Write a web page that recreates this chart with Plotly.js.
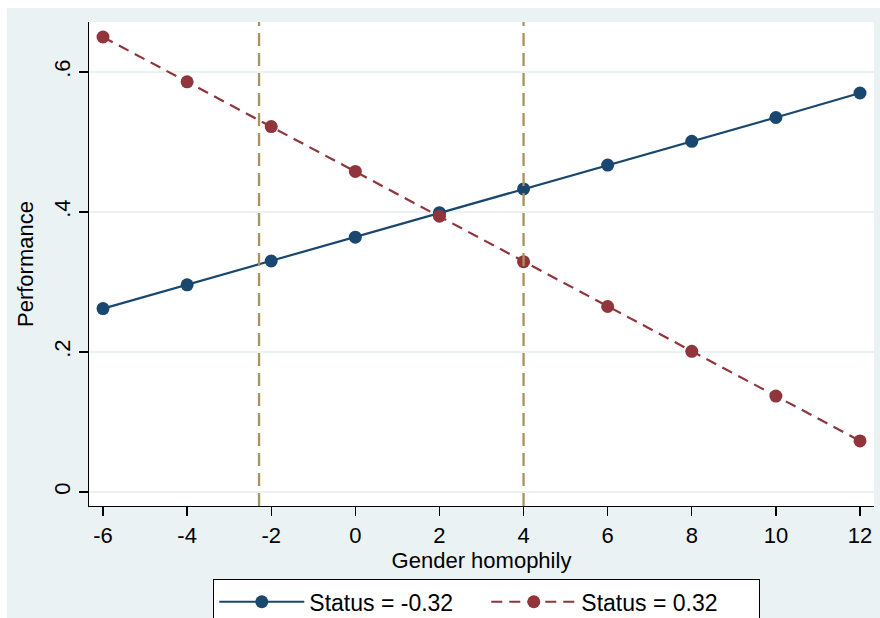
<!DOCTYPE html>
<html>
<head>
<meta charset="utf-8">
<script src="https://cdn.plot.ly/plotly-3.0.1.min.js"></script>
<style>html,body{margin:0;padding:0;background:#fff;}#chart{width:880px;height:618px;}</style>
</head>
<body>
<div id="chart"></div>
<script>
// Data
const homophily = [-6, -4, -2, 0, 2, 4, 6, 8, 10, 12];
const perfLowStatus = [0.262, 0.296, 0.330, 0.364, 0.399, 0.433, 0.467, 0.501, 0.535, 0.570];
const perfHighStatus = [0.650, 0.586, 0.522, 0.458, 0.394, 0.329, 0.265, 0.201, 0.137, 0.073];
const seriesNames = ['Status = -0.32', 'Status = 0.32'];
const refLines = [-2.29, 4];
const yTickVals = [0, 0.2, 0.4, 0.6];
const yTickText = ['0', '.2', '.4', '.6'];
const xTickVals = [-6, -4, -2, 0, 2, 4, 6, 8, 10, 12];
const xTickText = ['-6', '-4', '-2', '0', '2', '4', '6', '8', '10', '12'];

const navy = '#1a476f', maroon = '#90353b', khaki = '#a8935a', bg = '#eaf2f3';

const traces = [
  {x: homophily, y: perfLowStatus, name: seriesNames[0], mode: 'lines+markers',
   line: {color: navy, width: 2.2}, marker: {color: navy, size: 13}},
  {x: homophily, y: perfHighStatus, name: seriesNames[1], mode: 'lines+markers',
   line: {color: maroon, width: 2.2, dash: '11px,7px'}, marker: {color: maroon, size: 13}}
];

const shapes = refLines.map(v => ({type: 'line', xref: 'x', yref: 'paper', x0: v, x1: v, y0: 0, y1: 1,
  line: {color: khaki, width: 2.3, dash: '13px,7px'}, layer: 'above'}));
// white outer margins (top and left)
shapes.push({type: 'rect', xref: 'paper', yref: 'paper', x0: -89/785, x1: (880-89)/785, y0: 1 + 14/484, y1: 1 + 22/484,
  fillcolor: '#ffffff', line: {width: 0}, layer: 'below'});
shapes.push({type: 'rect', xref: 'paper', yref: 'paper', x0: -89/785, x1: -82/785, y0: -112/484, y1: 1 + 22/484,
  fillcolor: '#ffffff', line: {width: 0}, layer: 'below'});

const layout = {
  width: 880, height: 618,
  margin: {l: 89, r: 6, t: 22, b: 112, pad: 0},
  paper_bgcolor: bg, plot_bgcolor: '#ffffff',
  font: {family: 'Arial, Liberation Sans, sans-serif', color: '#000', size: 22},
  showlegend: true,
  legend: {orientation: 'h', xref: 'container', yref: 'container', x: 213/880, y: 1 - 579/618,
    xanchor: 'left', yanchor: 'top', bgcolor: '#ffffff', bordercolor: '#000', borderwidth: 1.3,
    font: {size: 23}, entrywidth: 172, entrywidthmode: 'pixels', itemwidth: 85},
  xaxis: {range: [-6.333, 12.333], tickvals: xTickVals, ticktext: xTickText, ticks: 'outside', ticklen: 9, tickwidth: 1.3,
    tickcolor: '#000', showline: true, linecolor: '#000', linewidth: 1.3, showgrid: false, zeroline: false,
    tickfont: {size: 22}, title: {text: 'Gender homophily', font: {size: 22}, standoff: 0}},
  yaxis: {range: [-0.02, 0.6714], tickvals: yTickVals, ticktext: yTickText, ticks: 'outside', ticklen: 9,
    tickwidth: 1.3, tickcolor: '#000', showline: true, linecolor: '#000', linewidth: 1.3,
    showgrid: true, gridcolor: bg, gridwidth: 2, zeroline: false, tickangle: -90,
    tickfont: {size: 22}, title: {text: 'Performance', font: {size: 22}, standoff: 10}},
  shapes: shapes
};

Plotly.newPlot('chart', traces, layout, {displayModeBar: false, staticPlot: true});
</script>
</body>
</html>
